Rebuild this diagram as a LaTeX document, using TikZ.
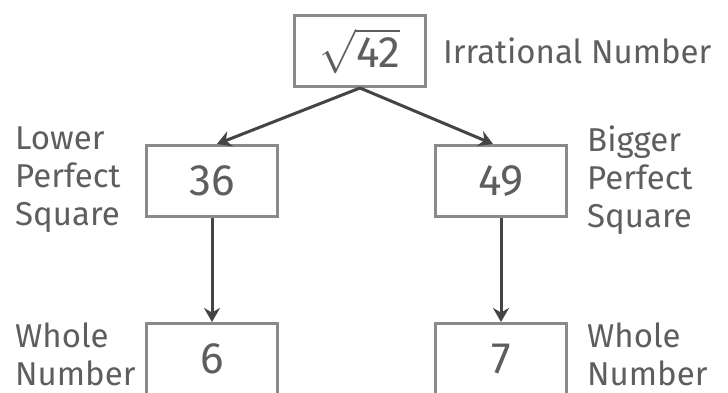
\documentclass[tikz,border=0pt]{standalone}
\usepackage{fix-cm}
\usepackage{fontspec}
\setmainfont{Fira Sans}
\definecolor{ftLine}{HTML}{8A8A8A}
\definecolor{ftArrow}{HTML}{444444}
\definecolor{ftText}{HTML}{5E5E5E}
\usetikzlibrary{arrows.meta}

\begin{document}
\begin{tikzpicture}[x=1pt, y=-1pt,
  numbox/.style={draw=ftLine, line width=3pt, fill=white, text=ftText,
    minimum width=131pt, minimum height=71pt, inner sep=0pt,
    font=\fontsize{44}{48}\selectfont},
  note/.style={anchor=west, align=left, text=ftText, inner sep=0pt,
    font=\fontsize{33}{38}\selectfont},
  arr/.style={-{Stealth[length=14pt, width=16pt]}, line width=3pt, color=ftArrow}
]
  \clip (0,0) rectangle (728,393);
  \fill[white] (0,0) rectangle (728,393);

  \node[numbox] (root) at (360,51) {$\sqrt{\hbox{42}}$};
  \node[note] (rootlbl) at (443,51) {Irrational Number};

  \node[numbox] (low) at (212,181) {36};
  \node[numbox] (high) at (501,181) {49};
  \node[note] (lowlbl) at (15,180) {Lower\\Perfect\\Square};
  \node[note] (highlbl) at (587,180) {Bigger\\Perfect\\Square};

  \node[numbox] (lowroot) at (212,359) {6};
  \node[numbox] (highroot) at (501,359) {7};
  \node[note] (lowrootlbl) at (15,354) {Whole\\Number};
  \node[note] (highrootlbl) at (587,354) {Whole\\Number};

  \draw[arr] (root.south) -- ([xshift=5pt]low.north);
  \draw[arr] (root.south) -- ([xshift=-8pt]high.north);
  \draw[arr] (low) -- (lowroot);
  \draw[arr] (high) -- (highroot);
\end{tikzpicture}
\end{document}
